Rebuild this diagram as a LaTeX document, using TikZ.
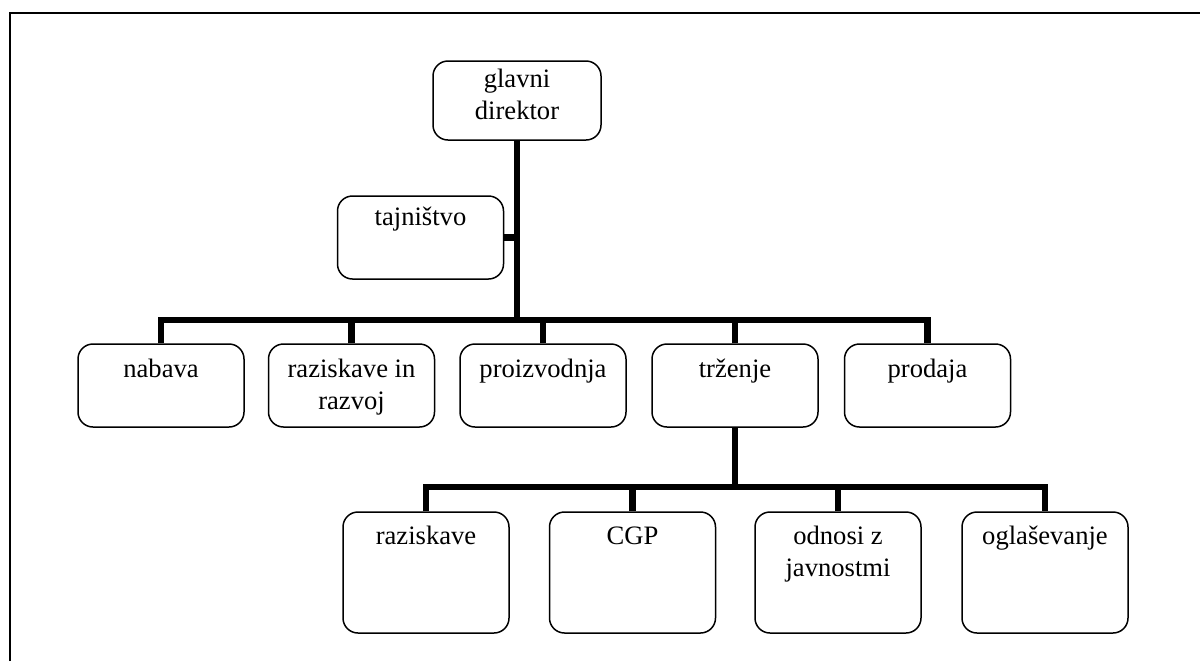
\documentclass[tikz,border=0pt]{standalone}
\usepackage{fontspec}
\setmainfont{Liberation Serif}
\usepackage{tikz}
\usetikzlibrary{
    calc
}

% text sits at the top of each box
\newcommand{\boxtxt}[3]{\parbox[c][#1][t]{80pt}{\centering\fontsize{13.3}{16}\selectfont\rule{0pt}{#2}#3}}

\tikzset{
    unit/.style={draw, line width=0.75pt, rounded corners=7.5pt, inner sep=0pt,
        minimum width=83pt},
    link/.style={line width=3.25pt, line join=miter}
}

\begin{document}
\begin{tikzpicture}[x=0.5pt,y=-0.5pt]

\useasboundingbox (0,0) rectangle (1200,661);

% Frame
\draw[line width=1pt] (9.5,661) -- (9.5,12.5) -- (1200,12.5);

% Top
\node[unit, minimum width=84pt, minimum height=39.5pt] (direktor) at (517,100.5)
    {\boxtxt{39.5pt}{13pt}{glavni\\direktor}};
\node[unit, minimum height=41.5pt] (tajnistvo) at (420.5,237.5)
    {\boxtxt{41.5pt}{14.5pt}{tajništvo}};

% Departments
\node[unit, minimum height=41.5pt] (nabava) at (161,385.5)
    {\boxtxt{41.5pt}{16.5pt}{nabava}};
\node[unit, minimum height=41.5pt] (razvoj) at (351.5,385.5)
    {\boxtxt{41.5pt}{16.5pt}{raziskave in\\razvoj}};
\node[unit, minimum height=41.5pt] (proizvodnja) at (543,385.5)
    {\boxtxt{41.5pt}{16.5pt}{proizvodnja}};
\node[unit, minimum height=41.5pt] (trzenje) at (735,385.5)
    {\boxtxt{41.5pt}{16.5pt}{trženje}};
\node[unit, minimum height=41.5pt] (prodaja) at (927.5,385.5)
    {\boxtxt{41.5pt}{16.5pt}{prodaja}};

% Marketing units
\node[unit, minimum height=60.5pt] (raziskave) at (426,572.5)
    {\boxtxt{60.5pt}{16pt}{raziskave}};
\node[unit, minimum height=60.5pt] (cgp) at (632.5,572.5)
    {\boxtxt{60.5pt}{16pt}{CGP}};
\node[unit, minimum height=60.5pt] (odnosi) at (838,572.5)
    {\boxtxt{60.5pt}{16pt}{odnosi z\\javnostmi}};
\node[unit, minimum height=60.5pt] (oglasevanje) at (1045,572.5)
    {\boxtxt{60.5pt}{16pt}{oglaševanje}};

% Bus lines
\coordinate (bus2) at (517,320);
\coordinate (bus3) at (736,487);

% Director to departments
\draw[link] (direktor.south) -- (direktor.south |- bus2);
\draw[link] (tajnistvo.east) -- (tajnistvo.east -| direktor.south);
\draw[link] (nabava.north) |- (prodaja.north |- bus2) -- (prodaja.north);
\foreach \d in {razvoj,proizvodnja,trzenje}
    \draw[link] (\d.north) -- (\d.north |- bus2);

% Marketing to its units
\draw[link] (trzenje.south) -- (trzenje.south |- bus3);
\draw[link] (raziskave.north) |- (oglasevanje.north |- bus3) -- (oglasevanje.north);
\foreach \d in {cgp,odnosi}
    \draw[link] (\d.north) -- (\d.north |- bus3);

\end{tikzpicture}
\end{document}
